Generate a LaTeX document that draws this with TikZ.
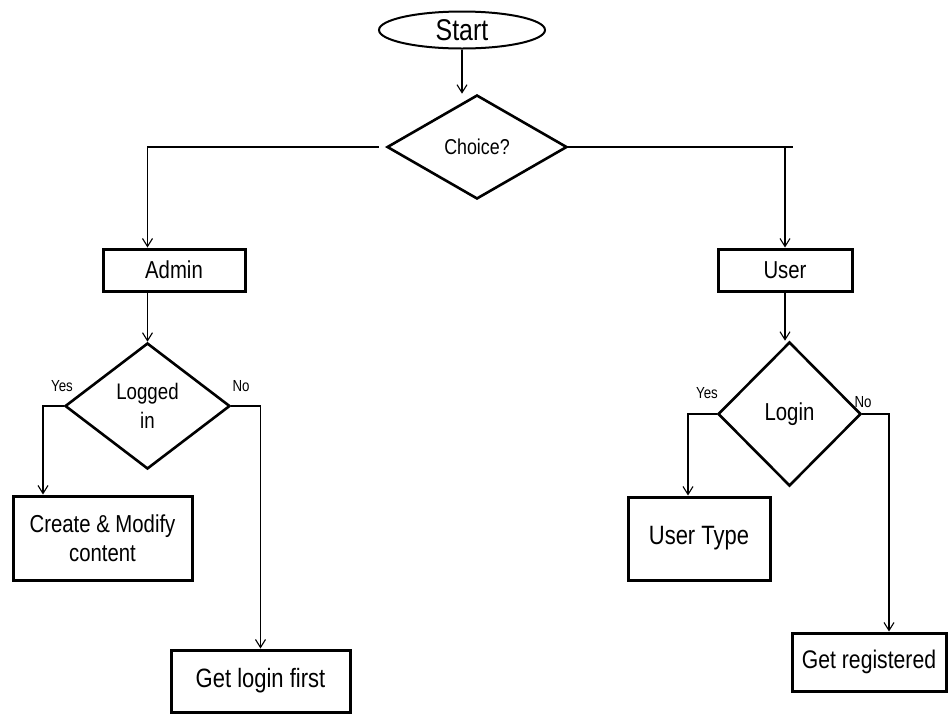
\documentclass[tikz,border=0pt]{standalone}
\usepackage{fontspec}
\setmainfont{Liberation Sans}[FakeStretch=0.83]
\usetikzlibrary{shapes.geometric,arrows.meta}
\newcommand{\fs}[1]{\fontsize{#1}{#1}\selectfont}
\begin{document}
\begin{tikzpicture}[x=1pt,y=-1pt,
  box/.style={draw, line width=3pt, rectangle, inner sep=0pt, align=center},
  decision/.style={draw, line width=2.6pt, diamond, inner sep=0pt, align=center},
  terminal/.style={draw, line width=2pt, ellipse, inner sep=0pt},
  flow/.style={line width=1.1pt, -{Straight Barb[length=8pt,width=10pt]}},
  link/.style={line width=1.1pt},
  lbl/.style={font=\fs{16}, inner sep=0pt}
]
\fill[white] (0,0) rectangle (950,716);
\useasboundingbox (0,0) rectangle (950,716);

% nodes
\node[terminal, minimum width=166pt, minimum height=37pt, font=\fs{30}] (start) at (462,30) {Start};
\node[decision, minimum width=180pt, minimum height=104pt, font=\fs{21.5}] (choice) at (477,147) {Choice?};

\node[box, minimum width=142pt, minimum height=42pt, font=\fs{24.5}] (admin) at (174,270) {Admin};
\node[decision, minimum width=165pt, minimum height=126pt, font={\fontsize{22.5}{29}\selectfont}] (logged) at (147.5,406) {Logged\\in};
\node[box, minimum width=179pt, minimum height=84pt, font={\fontsize{24.5}{29}\selectfont}] (create) at (102.5,538) {Create \& Modify\\content};
\node[box, minimum width=179pt, minimum height=62pt, font=\fs{26.5}] (getlogin) at (260.5,681) {Get login first};

\node[box, minimum width=134pt, minimum height=42pt, font=\fs{24.5}] (user) at (785,270) {User};
\node[decision, minimum width=143pt, minimum height=144pt, font=\fs{24.5}] (login) at (789.5,414) {Login};
\node[box, minimum width=142pt, minimum height=83pt, font=\fs{26.5}] (usertype) at (699,538.5) {User Type};
\node[box, minimum width=154pt, minimum height=58pt, font=\fs{25.5}] (getreg) at (869,662) {Get registered};

% branch labels
\node[lbl] (yesA) at (62,386) {Yes};
\node[lbl] (noA) at (241,386) {No};
\node[lbl] (yesU) at (707,393) {Yes};
\node[lbl] (noU) at (863,402) {No};

% connectors
\draw[flow] (start.south) -- (start.south |- choice.north);
\draw[flow] ([xshift=-7pt]choice.west) -| (logged.north |- admin.north);
\draw[link] (choice.east) -- ([xshift=8pt]choice.east -| user.north);
\draw[flow] (choice.east -| user.north) -- (user.north);

\draw[flow] (logged.north |- admin.south) -- (logged.north);
\draw[flow] (logged.west) -| ([xshift=-59.5pt]create.north);
\draw[flow] (logged.east) -| (getlogin.north);

\draw[flow] (user.south) -- (user.south |- login.north);
\draw[flow] (login.west) -| ([xshift=-11pt]usertype.north);
\draw[flow] (login.east) -| ([xshift=20pt]getreg.north);
\end{tikzpicture}
\end{document}
